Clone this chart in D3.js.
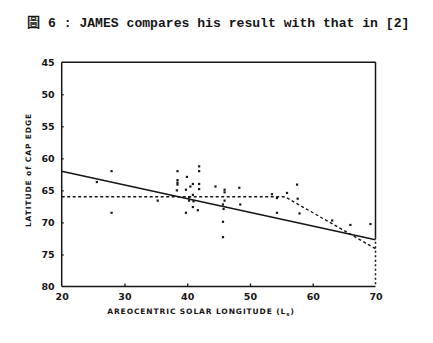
<!DOCTYPE html>
<html><head><meta charset="utf-8">
<script src="https://cdn.jsdelivr.net/npm/d3@7"></script>
<style>body{margin:0;background:#fff;}svg{display:block;}</style>
</head><body>
<script>
// ---- data ----
const obsLs = [25.6,27.95,27.95,35.3,38.45,38.45,38.45,38.45,38.35,39.95,39.8,40.5,40.9,39.8,40.3,40.3,40.9,41.0,40.9,41.7,41.9,41.9,41.9,41.9,44.5,45.95,45.95,45.95,45.7,45.8,45.7,45.7,48.3,48.45,53.5,54.3,54.3,55.9,57.5,57.6,57.9,63.1,66.0,69.2];
const obsLat = [63.7,62.0,68.5,66.6,62.0,63.4,63.8,64.1,65.0,62.9,64.9,64.4,64.0,68.5,66.1,66.6,65.7,66.7,67.6,68.1,61.25,62.0,64.0,64.8,64.4,64.9,65.3,66.6,67.2,67.9,69.9,72.3,64.6,67.2,65.6,66.2,68.5,65.4,64.1,66.3,68.6,69.7,70.4,70.25];
const jamesLs = [20,70];
const jamesLat = [62.0,72.7];
const otherLs = [20,55.6,70];
const otherLat = [66.0,66.0,74.1];
const xTicks = [20,30,40,50,60,70];
const yTicks = [45,50,55,60,65,70,75,80];
const titleText = "圖 6 : JAMES compares his result with that in [2]";
const xLabel = "AREOCENTRIC SOLAR LONGITUDE (L";
const yLabel = "LATITUDE of CAP EDGE";

const W=433,H=343;
const svg=d3.select("body").append("svg").attr("width",W).attr("height",H);
const x=d3.scaleLinear().domain([20,70]).range([61.7,375.5]);
const y=d3.scaleLinear().domain([45,80]).range([62.2,286.5]);
const ink="#151515";

// title
svg.append("text").attr("x",27).attr("y",27)
  .style("font-family","'Liberation Mono','Noto Sans CJK TC',monospace").style("font-weight","bold").style("font-size","13.1px")
  .attr("fill",ink).text(titleText);

// frame
const fr=svg.append("g").attr("stroke",ink).attr("stroke-width",1.5).attr("fill","none");
fr.append("line").attr("x1",x(20)).attr("x2",x(70)).attr("y1",y(45)).attr("y2",y(45));
fr.append("line").attr("x1",x(20)).attr("x2",x(70)).attr("y1",y(80)).attr("y2",y(80));
fr.append("line").attr("x1",x(20)).attr("x2",x(20)).attr("y1",y(45)).attr("y2",y(80));
fr.append("line").attr("x1",x(70)).attr("x2",x(70)).attr("y1",y(45)).attr("y2",y(72.3));
fr.append("line").attr("x1",x(70)).attr("x2",x(70)).attr("y1",y(72.3)).attr("y2",y(80)).attr("stroke-dasharray","2,2.5");

// axes
const ax=svg.append("g").attr("transform",`translate(0,${y(80)})`)
  .call(d3.axisBottom(x).tickValues(xTicks).tickSize(-3).tickPadding(7).tickFormat(d3.format("d")));
const ay=svg.append("g").attr("transform",`translate(${x(20)},0)`)
  .call(d3.axisLeft(y).tickValues(yTicks).tickSize(-2).tickPadding(7).tickFormat(d3.format("d")));
[ax,ay].forEach(a=>{
  a.select(".domain").remove();
  a.selectAll("line").attr("stroke",ink).attr("stroke-width",1.3);
  a.selectAll("text").attr("fill",ink).style("font-family","'DejaVu Sans',sans-serif").style("font-weight","bold").style("font-size","9.5px");
});
ax.selectAll(".tick").filter(d=>d===20||d===70).select("line").remove();
ay.selectAll(".tick").filter(d=>d===45||d===80).select("line").remove();

// axis labels
const xl=svg.append("text").attr("x",201).attr("y",314).attr("text-anchor","middle")
  .style("font-family","'DejaVu Sans',sans-serif").style("font-weight","bold").style("font-size","7.5px")
  .style("letter-spacing","0.9px").attr("fill",ink);
xl.append("tspan").text(xLabel);
xl.append("tspan").attr("dy",2).style("font-size","5.5px").text("s");
xl.append("tspan").attr("dy",-2).text(")");
svg.append("text").attr("transform","translate(31,170) rotate(-90)").attr("text-anchor","middle")
  .style("letter-spacing","0.9px")
  .style("font-family","'DejaVu Sans',sans-serif").style("font-weight","bold").style("font-size","7.5px")
  .attr("fill",ink).text(yLabel);

// lines
const line=d3.line().x(d=>x(d[0])).y(d=>y(d[1]));
svg.append("path").datum(d3.zip(jamesLs,jamesLat)).attr("d",line).attr("fill","none").attr("stroke",ink).attr("stroke-width",1.5);
svg.append("path").datum(d3.zip(otherLs,otherLat)).attr("d",line).attr("fill","none").attr("stroke",ink).attr("stroke-width",1.4).attr("stroke-dasharray","3,2.5");

// points
svg.append("g").selectAll("rect").data(d3.zip(obsLs,obsLat)).join("rect")
  .attr("x",d=>x(d[0])-1.1).attr("y",d=>y(d[1])-1.1).attr("width",2.2).attr("height",2.2).attr("fill",ink);
</script>
</body></html>
